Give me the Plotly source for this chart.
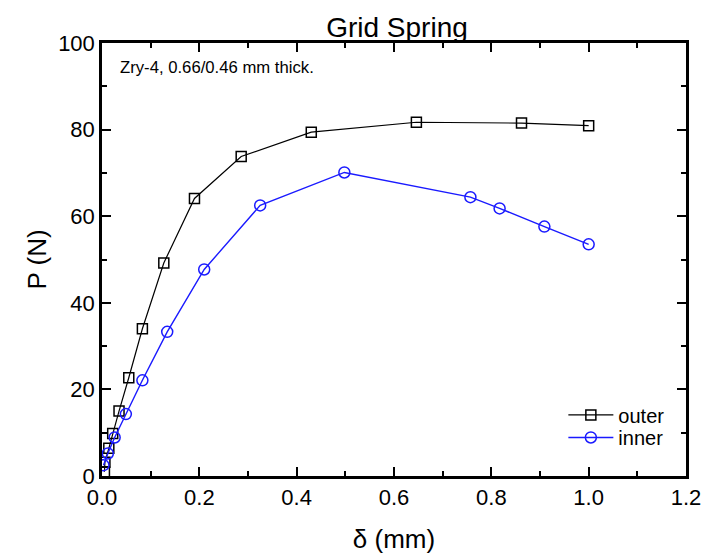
import plotly.graph_objects as go

outer_x = [0.005, 0.006, 0.014, 0.022, 0.035, 0.055, 0.083, 0.127, 0.19, 0.286, 0.43, 0.646, 0.862, 1.0]
outer_y = [1.0, 3.2, 6.4, 9.8, 15.0, 22.7, 34.0, 49.2, 64.1, 73.8, 79.4, 81.7, 81.5, 80.9]
inner_x = [0.003, 0.012, 0.026, 0.049, 0.083, 0.134, 0.21, 0.325, 0.498, 0.757, 0.817, 0.909, 1.0]
inner_y = [2.5, 5.2, 8.9, 14.3, 22.1, 33.3, 47.7, 62.5, 70.1, 64.4, 61.8, 57.6, 53.5]

FONT = "Liberation Sans, Arial, sans-serif"

fig = go.Figure()
fig.add_trace(go.Scatter(
    x=outer_x, y=outer_y, name="outer", mode="lines+markers", legend="legend",
    line=dict(color="black", width=1.2),
    marker=dict(symbol="square-open", size=10, color="black", line=dict(width=1.5)),
))
fig.add_trace(go.Scatter(
    x=inner_x, y=inner_y, name="inner", mode="lines+markers", legend="legend2",
    line=dict(color="#1a1aff", width=1.4),
    marker=dict(symbol="circle-open", size=11, color="#1a1aff", line=dict(width=1.5)),
))

leg_common = dict(xanchor="left", yanchor="top", bgcolor="rgba(0,0,0,0)",
                  font=dict(size=20, family=FONT), itemwidth=45)

fig.update_layout(
    width=704, height=556,
    margin=dict(l=102, r=18, t=43, b=80, autoexpand=False),
    paper_bgcolor="white", plot_bgcolor="white",
    font=dict(family=FONT, color="black"),
    title=dict(text="Grid Spring", x=397/704, xanchor="center", y=1 - 27/556,
               yanchor="middle", yref="container", font=dict(size=28, family=FONT, color="black")),
    showlegend=True,
    legend=dict(x=0.79, y=0.186, **leg_common),
    legend2=dict(x=0.79, y=0.134, **leg_common),
    annotations=[dict(text="Zry-4, 0.66/0.46 mm thick.", xref="paper", yref="paper",
                      x=0.028, y=0.943, xanchor="left", yanchor="middle", showarrow=False,
                      font=dict(size=16.7, family=FONT))],
)

fig.update_xaxes(
    range=[0, 1.2], dtick=0.2, tick0=0, tickformat=".1f",
    showgrid=False, zeroline=False, automargin=False,
    showline=True, linecolor="black", linewidth=2.5, mirror="ticks",
    ticks="inside", ticklen=9, tickwidth=2, tickcolor="black",
    minor=dict(dtick=0.1, ticks="inside", ticklen=5, tickwidth=2, tickcolor="black"),
    tickfont=dict(size=22, family=FONT),
    title=dict(text="δ (mm)", font=dict(size=26, family=FONT), standoff=21),
    ticklabelstandoff=0,
)
fig.update_yaxes(
    range=[0, 100], dtick=20, tick0=0,
    showgrid=False, zeroline=False, automargin=False,
    showline=True, linecolor="black", linewidth=2.5, mirror="ticks",
    ticks="inside", ticklen=9, tickwidth=2, tickcolor="black",
    minor=dict(dtick=10, ticks="inside", ticklen=5, tickwidth=2, tickcolor="black"),
    tickfont=dict(size=22, family=FONT),
    title=dict(text="P (N)", font=dict(size=26, family=FONT), standoff=5),
    ticklabelstandoff=0,
)

fig.write_html("out.html", post_script="document.body.style.margin='0';",
               config={"displayModeBar": False})
